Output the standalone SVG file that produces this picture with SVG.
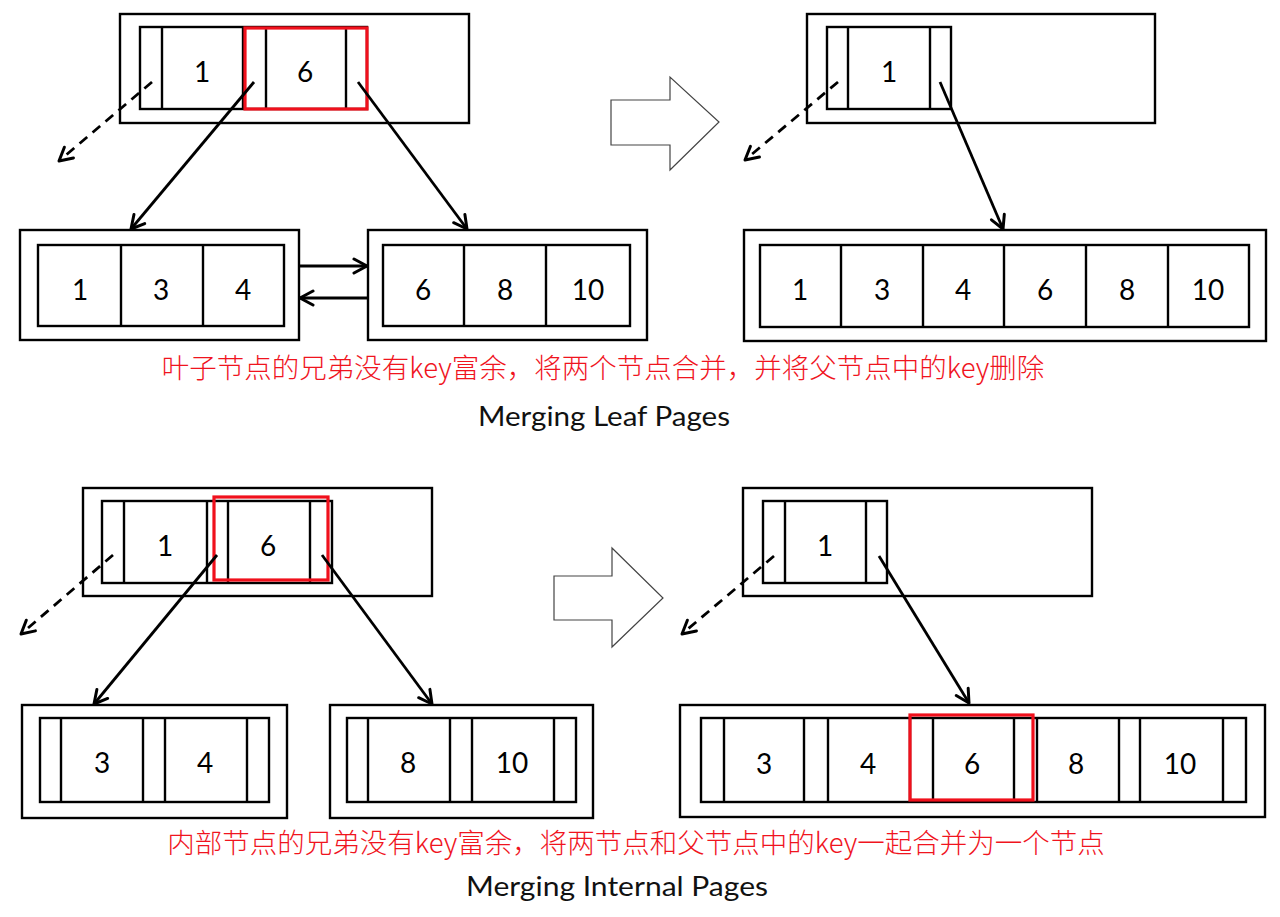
<svg xmlns="http://www.w3.org/2000/svg" width="1280" height="917" viewBox="0 0 1280 917">
<defs>
<marker id="ah" markerUnits="userSpaceOnUse" markerWidth="30" markerHeight="30" viewBox="-15 -15 30 30" refX="0" refY="0" orient="auto">
<path d="M-13,-7 L0,0 L-13,7" fill="none" stroke="#000" stroke-width="3" stroke-linecap="round" stroke-linejoin="round"/>
</marker>
</defs>
<style>
.b{fill:none;stroke:#000;stroke-width:2.4}
.sep{stroke:#000;stroke-width:2.4}
.red{fill:none;stroke:#f0101c;stroke-width:3.2}
.n{font-family:Lato,"Open Sans","Liberation Sans",sans-serif;font-size:28px;fill:#000;text-anchor:middle}
.cn{font-family:"Noto Sans CJK SC","Noto Sans",sans-serif;font-size:27.5px;font-weight:300;fill:#f0141e;text-anchor:middle}
.t{font-family:Lato,"Open Sans","Liberation Sans",sans-serif;font-size:26px;fill:#111;text-anchor:middle}
.c{fill:none;stroke:#000;stroke-width:2.8;marker-end:url(#ah)}
.d{fill:none;stroke:#000;stroke-width:2.8;stroke-dasharray:10 7;marker-end:url(#ah)}
.big{fill:#fff;stroke:#444;stroke-width:1.2}
</style>
<rect width="1280" height="917" fill="#fff"/>

<!-- Top-left parent -->
<g id="tl-parent">
<rect class="b" x="120" y="14" width="349" height="109"/>
<rect class="b" x="140" y="27" width="227" height="82"/>
<line class="sep" x1="162" y1="27" x2="162" y2="109"/>
<line class="sep" x1="243" y1="27" x2="243" y2="109"/>
<line class="sep" x1="266" y1="27" x2="266" y2="109"/>
<line class="sep" x1="346" y1="27" x2="346" y2="109"/>
<rect class="red" x="245" y="28" width="122" height="81"/>
<text class="n" x="202" y="82">1</text>
<text class="n" x="305" y="82">6</text>
</g>

<!-- Top-left leaves -->
<g id="tl-leaf1">
<rect class="b" x="20" y="230" width="279" height="110"/>
<rect class="b" x="38" y="245" width="246" height="81"/>
<line class="sep" x1="121" y1="245" x2="121" y2="326"/>
<line class="sep" x1="203" y1="245" x2="203" y2="326"/>
<text class="n" x="80" y="300">1</text>
<text class="n" x="161" y="300">3</text>
<text class="n" x="243" y="300">4</text>
</g>
<g id="tl-leaf2">
<rect class="b" x="368" y="230" width="279" height="110"/>
<rect class="b" x="383" y="245" width="247" height="81"/>
<line class="sep" x1="464" y1="245" x2="464" y2="326"/>
<line class="sep" x1="546" y1="245" x2="546" y2="326"/>
<text class="n" x="423" y="300">6</text>
<text class="n" x="505" y="300">8</text>
<text class="n" x="588" y="300">10</text>
</g>

<!-- Top-right -->
<g id="step-arrow-1">
<polygon class="big" points="611,100 670,100 670,77 719,122 670,170 670,145 611,145"/>
</g>
<g id="tr-parent">
<rect class="b" x="807" y="14" width="348" height="109"/>
<rect class="b" x="827" y="27" width="124" height="82"/>
<line class="sep" x1="848" y1="27" x2="848" y2="109"/>
<line class="sep" x1="930" y1="27" x2="930" y2="109"/>
<text class="n" x="889" y="82">1</text>
</g>
<g id="tr-leaf">
<rect class="b" x="744" y="230" width="522" height="111"/>
<rect class="b" x="760" y="245" width="489" height="82"/>
<line class="sep" x1="841" y1="245" x2="841" y2="327"/>
<line class="sep" x1="923" y1="245" x2="923" y2="327"/>
<line class="sep" x1="1004" y1="245" x2="1004" y2="327"/>
<line class="sep" x1="1086" y1="245" x2="1086" y2="327"/>
<line class="sep" x1="1168" y1="245" x2="1168" y2="327"/>
<text class="n" x="800" y="300">1</text>
<text class="n" x="882" y="300">3</text>
<text class="n" x="963" y="300">4</text>
<text class="n" x="1045" y="300">6</text>
<text class="n" x="1127" y="300">8</text>
<text class="n" x="1208" y="300">10</text>
</g>

<!-- Bottom-left parent -->
<g id="bl-parent">
<rect class="b" x="83" y="488" width="349" height="108"/>
<rect class="b" x="102" y="501" width="230" height="82"/>
<line class="sep" x1="124" y1="501" x2="124" y2="583"/>
<line class="sep" x1="207" y1="501" x2="207" y2="583"/>
<line class="sep" x1="228" y1="501" x2="228" y2="583"/>
<line class="sep" x1="310" y1="501" x2="310" y2="583"/>
<rect class="red" x="214" y="497" width="114" height="83"/>
<text class="n" x="165" y="556">1</text>
<text class="n" x="268" y="556">6</text>
</g>

<g id="bl-leaf1">
<rect class="b" x="22" y="705" width="265" height="113"/>
<rect class="b" x="40" y="718" width="229" height="84"/>
<line class="sep" x1="61" y1="718" x2="61" y2="802"/>
<line class="sep" x1="143" y1="718" x2="143" y2="802"/>
<line class="sep" x1="165" y1="718" x2="165" y2="802"/>
<line class="sep" x1="247" y1="718" x2="247" y2="802"/>
<text class="n" x="102" y="773">3</text>
<text class="n" x="205" y="773">4</text>
</g>
<g id="bl-leaf2">
<rect class="b" x="330" y="705" width="263" height="113"/>
<rect class="b" x="347" y="718" width="229" height="84"/>
<line class="sep" x1="368" y1="718" x2="368" y2="802"/>
<line class="sep" x1="450" y1="718" x2="450" y2="802"/>
<line class="sep" x1="472" y1="718" x2="472" y2="802"/>
<line class="sep" x1="554" y1="718" x2="554" y2="802"/>
<text class="n" x="408" y="773">8</text>
<text class="n" x="512" y="773">10</text>
</g>

<!-- Bottom-right -->
<g id="step-arrow-2">
<polygon class="big" points="554,576 612,576 612,548 663,598 612,647 612,620 554,620"/>
</g>
<g id="br-parent">
<rect class="b" x="743" y="488" width="349" height="108"/>
<rect class="b" x="763" y="501" width="124" height="82"/>
<line class="sep" x1="785" y1="501" x2="785" y2="583"/>
<line class="sep" x1="866" y1="501" x2="866" y2="583"/>
<text class="n" x="825" y="556">1</text>
</g>
<g id="br-leaf">
<rect class="b" x="680" y="705" width="585" height="112"/>
<rect class="b" x="701" y="718" width="545" height="84"/>
<line class="sep" x1="724" y1="718" x2="724" y2="802"/>
<line class="sep" x1="804" y1="718" x2="804" y2="802"/>
<line class="sep" x1="828" y1="718" x2="828" y2="802"/>
<line class="sep" x1="910" y1="718" x2="910" y2="802"/>
<line class="sep" x1="933" y1="718" x2="933" y2="802"/>
<line class="sep" x1="1014" y1="718" x2="1014" y2="802"/>
<line class="sep" x1="1037" y1="718" x2="1037" y2="802"/>
<line class="sep" x1="1119" y1="718" x2="1119" y2="802"/>
<line class="sep" x1="1140" y1="718" x2="1140" y2="802"/>
<line class="sep" x1="1223" y1="718" x2="1223" y2="802"/>
<rect class="red" x="910" y="715" width="123" height="85"/>
<text class="n" x="764" y="774">3</text>
<text class="n" x="868" y="774">4</text>
<text class="n" x="972" y="774">6</text>
<text class="n" x="1076" y="774">8</text>
<text class="n" x="1180" y="774">10</text>
</g>

<!-- Connectors -->
<g id="connectors">
<line class="d" x1="152" y1="82" x2="59" y2="161"/>
<line class="c" x1="254" y1="82" x2="131" y2="229"/>
<line class="c" x1="358" y1="82" x2="467" y2="229"/>
<line class="c" x1="299" y1="266" x2="367" y2="266"/>
<line class="c" x1="368" y1="298" x2="300" y2="298"/>
<line class="d" x1="838" y1="82" x2="745" y2="160"/>
<line class="c" x1="940" y1="82" x2="1003" y2="229"/>
<line class="d" x1="113" y1="555" x2="21" y2="634"/>
<line class="c" x1="217" y1="555" x2="94" y2="704"/>
<line class="c" x1="322" y1="555" x2="432" y2="704"/>
<line class="d" x1="774" y1="556" x2="682" y2="634"/>
<line class="c" x1="879" y1="556" x2="969" y2="703"/>
</g>

<!-- Labels -->
<g id="labels">
<text class="cn" x="603" y="378">叶子节点的兄弟没有key富余，将两个节点合并，并将父节点中的key删除</text>
<text class="t" x="604" y="426" textLength="252" lengthAdjust="spacingAndGlyphs">Merging Leaf Pages</text>
<text class="cn" x="636" y="853">内部节点的兄弟没有key富余，将两节点和父节点中的key一起合并为一个节点</text>
<text class="t" x="617" y="896" textLength="302" lengthAdjust="spacingAndGlyphs">Merging Internal Pages</text>
</g>
</svg>
